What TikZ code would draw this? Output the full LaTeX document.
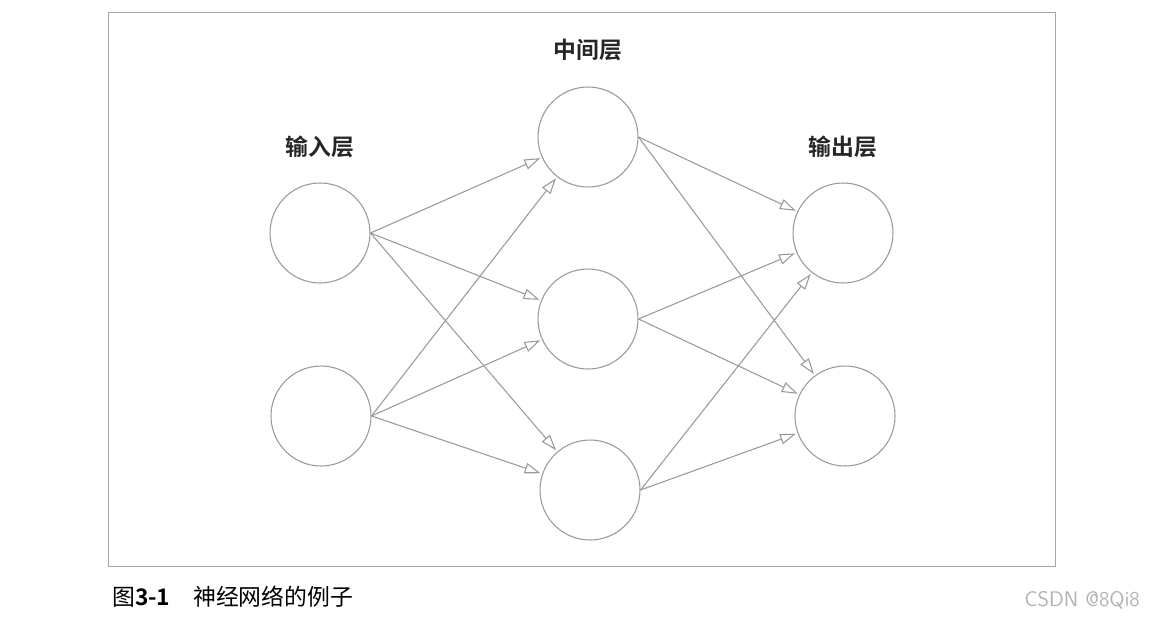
\documentclass[tikz,border=0pt]{standalone}
\usepackage{fontspec}
\newfontfamily\cjk{Noto Sans CJK SC}[BoldFont={Noto Sans CJK SC Bold}]
\usetikzlibrary{arrows.meta}
\tikzset{
  neuron/.style={draw=black!40, line width=0.6pt, circle, minimum size=2cm, inner sep=0pt},
  link/.style={draw=black!40, line width=0.6pt, -{Triangle[open,length=9pt,width=6pt]}, shorten >=1pt},
  title/.style={font=\cjk\bfseries\fontsize{13}{15}\selectfont, text=black!85}
}
\begin{document}
\begin{tikzpicture}[x=0.02cm,y=-0.02cm]
  \useasboundingbox (0,0) rectangle (1151,619);
  \draw[black!35] (108,12) rectangle (1055,566);

  % neurons
  \node[neuron] (i1) at (320,233) {};
  \node[neuron] (i2) at (321,416) {};
  \node[neuron] (h1) at (588,137) {};
  \node[neuron] (h2) at (588,319) {};
  \node[neuron] (h3) at (590,490) {};
  \node[neuron] (o1) at (843,233) {};
  \node[neuron] (o2) at (845,416) {};

  \node[title] (ti) at (320,147) {输入层};
  \node[title] (th) at (588,50) {中间层};
  \node[title] (to) at (843,147) {输出层};

  \foreach \a in {i1,i2}{
    \foreach \b in {h1,h2,h3}{
      \draw[link] (\a.east) -- (\b);
    }
  }
  \foreach \a in {h1,h2,h3}{
    \foreach \b in {o1,o2}{
      \draw[link] (\a.east) -- (\b);
    }
  }

  \node[anchor=west, font=\cjk\fontsize{13}{15}\selectfont] (cap) at (106,597) {图\textbf{3-1}\quad 神经网络的例子};
  \node[anchor=east, font=\fontsize{12}{14}\selectfont\sffamily, text=black!30] (wm) at (1146,600) {CSDN @8Qi8};
\end{tikzpicture}
\end{document}
